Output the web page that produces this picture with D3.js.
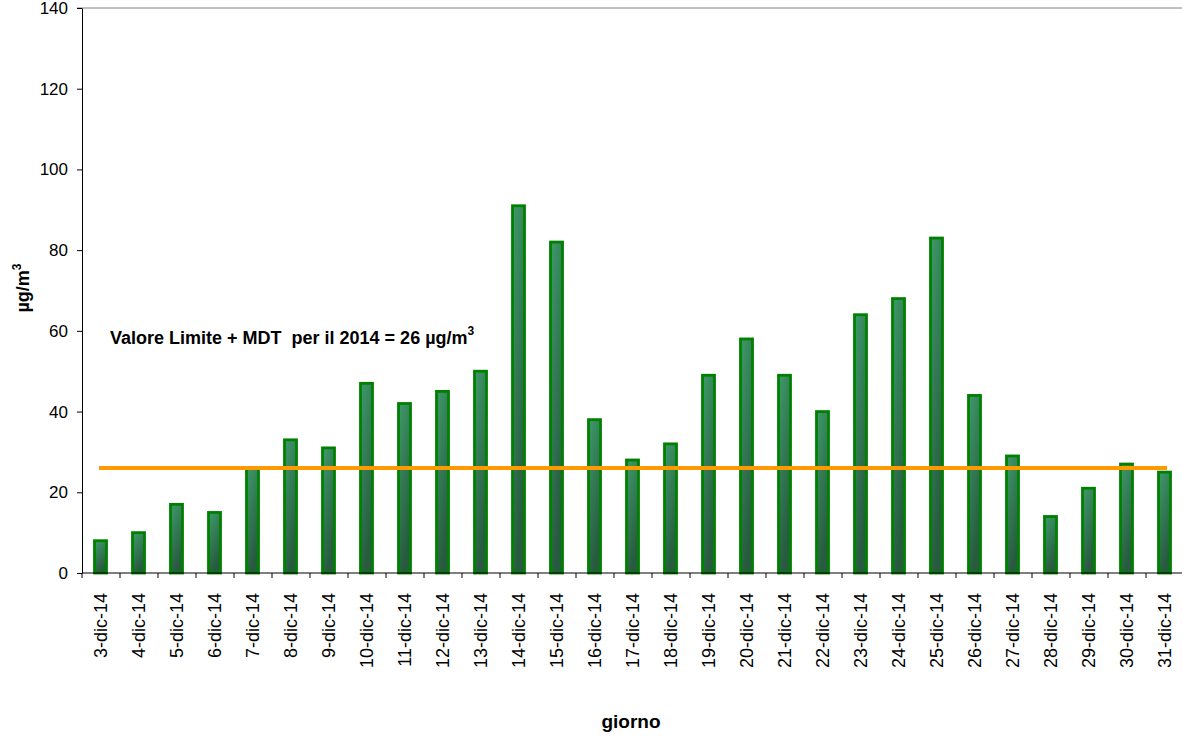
<!DOCTYPE html>
<html>
<head>
<meta charset="utf-8">
<script src="https://cdn.jsdelivr.net/npm/d3@7"></script>
<style>
  html, body { margin: 0; padding: 0; background: #fff; }
  svg { display: block; font-family: "Liberation Sans", Arial, sans-serif; }
</style>
</head>
<body>
<svg id="chart" width="1182" height="738"></svg>
<script>
// Daily concentrations, December 2014
const days = ["3-dic-14","4-dic-14","5-dic-14","6-dic-14","7-dic-14","8-dic-14","9-dic-14",
  "10-dic-14","11-dic-14","12-dic-14","13-dic-14","14-dic-14","15-dic-14","16-dic-14",
  "17-dic-14","18-dic-14","19-dic-14","20-dic-14","21-dic-14","22-dic-14","23-dic-14",
  "24-dic-14","25-dic-14","26-dic-14","27-dic-14","28-dic-14","29-dic-14","30-dic-14","31-dic-14"];
const values = [8, 10, 17, 15, 26, 33, 31, 47, 42, 45, 50, 91, 82, 38, 28, 32, 49, 58, 49, 40,
  64, 68, 83, 44, 29, 14, 21, 27, 25];
const limitValue = 26;
const yTicks = [0, 20, 40, 60, 80, 100, 120, 140];

const svg = d3.select("#chart");
const plotLeft = 82, plotRight = 1184, plotTop = 8, plotBottom = 573;

const x = d3.scaleBand().domain(days).range([plotLeft, plotRight]).paddingInner(0).paddingOuter(0);
const y = d3.scaleLinear().domain([0, 140]).range([plotBottom, plotTop]);

// Bar gradient
const defs = svg.append("defs");
const grad = defs.append("linearGradient").attr("id", "barFill")
  .attr("x1", "0").attr("y1", "0").attr("x2", "0.4").attr("y2", "1");
grad.append("stop").attr("offset", "0%").attr("stop-color", "#3e9a6a");
grad.append("stop").attr("offset", "100%").attr("stop-color", "#275a3e");

// Top frame line
svg.append("line")
  .attr("x1", plotLeft - 5).attr("x2", plotRight).attr("y1", plotTop).attr("y2", plotTop)
  .attr("stroke", "#7f7f7f").attr("stroke-width", 1);

// Bars
const bw = 12;
svg.append("g").selectAll("rect").data(values).join("rect")
  .attr("x", (d, i) => x(days[i]) + x.bandwidth() / 2 - bw / 2 - 0.5)
  .attr("y", d => y(d))
  .attr("width", bw)
  .attr("height", d => y(0) - y(d))
  .attr("fill", "url(#barFill)")
  .attr("stroke", "#008000")
  .attr("stroke-width", 2.8);

// Limit line
svg.append("line")
  .attr("x1", x(days[0]) + x.bandwidth() / 2 - 2)
  .attr("x2", x(days[days.length - 1]) + x.bandwidth() / 2 + 2)
  .attr("y1", y(limitValue)).attr("y2", y(limitValue))
  .attr("stroke", "#ff9900").attr("stroke-width", 4);

// Y axis
const yAxis = d3.axisLeft(y).tickValues(yTicks).tickSize(5).tickPadding(9).tickSizeOuter(0);
const gy = svg.append("g").attr("transform", `translate(${plotLeft},0)`).call(yAxis);
gy.select(".domain").attr("stroke", "#000");
gy.selectAll(".tick line").attr("stroke", "#000");
gy.selectAll(".tick text").attr("font-size", 17).attr("fill", "#000")
  .attr("font-family", "Liberation Sans, Arial, sans-serif");

// X axis: ticks sit on category boundaries
const boundaries = d3.range(days.length + 1).map(i => plotLeft + i * x.bandwidth());
const gx = svg.append("g");
gx.append("line").attr("x1", plotLeft).attr("x2", plotRight).attr("y1", plotBottom).attr("y2", plotBottom)
  .attr("stroke", "#000");
gx.selectAll("line.tk").data(boundaries).join("line").attr("class", "tk")
  .attr("x1", d => d).attr("x2", d => d).attr("y1", plotBottom).attr("y2", plotBottom + 5)
  .attr("stroke", "#000");
gx.selectAll("text").data(days).join("text")
  .attr("transform", d => `translate(${x(d) + x.bandwidth() / 2 + 6},${plotBottom + 20}) rotate(-90)`)
  .attr("text-anchor", "end")
  .attr("font-size", 18)
  .attr("fill", "#000")
  .text(d => d);

// Y axis title
const yt = svg.append("text")
  .attr("transform", "translate(29,288) rotate(-90)")
  .attr("text-anchor", "middle").attr("font-size", 18).attr("font-weight", "bold");
yt.append("tspan").text("µg/m");
yt.append("tspan").attr("font-size", 12).attr("dy", -8).text("3");

// X axis title
svg.append("text").attr("x", 631).attr("y", 728).attr("text-anchor", "middle")
  .attr("font-size", 19).attr("font-weight", "bold").text("giorno");

// Limit annotation
const ann = svg.append("text").attr("x", 110).attr("y", 344)
  .attr("font-size", 18).attr("font-weight", "bold").style("white-space", "pre");
ann.append("tspan").text("Valore Limite + MDT  per il 2014 = 26 µg/m");
ann.append("tspan").attr("font-size", 12).attr("dy", -9).text("3");
</script>
</body>
</html>
